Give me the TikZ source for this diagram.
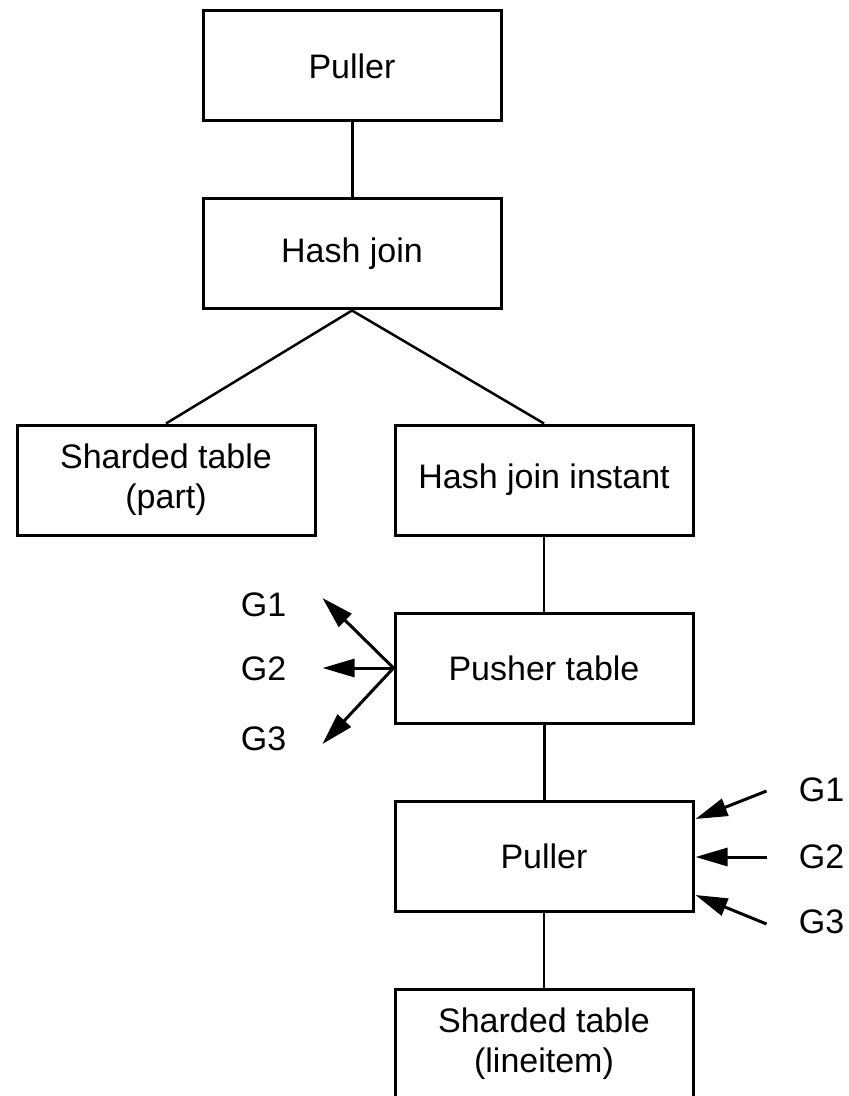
\documentclass[tikz,border=0pt]{standalone}
\usepackage{fontspec}
\setmainfont{Liberation Sans}
\usetikzlibrary{positioning,arrows.meta,calc}

\begin{document}
\begin{tikzpicture}[x=0.5pt, y=-0.5pt,
    box/.style={draw, line width=1.5pt, minimum width=149pt, minimum height=55pt,
                align=center, inner sep=0pt, font=\fontsize{17}{20}\selectfont},
    link/.style={line width=1.5pt},
    fork/.style={line width=1.25pt},
    slim/.style={line width=1pt},
    gflow/.style={-{Triangle[length=16pt, width=9pt]}, line width=1.5pt},
    glabel/.style={inner sep=0pt, font=\fontsize{17}{20}\selectfont},
  ]
    \useasboundingbox (0,0) rectangle (848,1096);
    \node[box] (top) at (352,66) {Puller};
    \node[box, below=37.5pt of top] (hj) {Hash join};
    \node[box, below=56.5pt of hj, xshift=-93pt] (part) {Sharded table\\(part)};
    \node[box, below=56.5pt of hj, xshift=96pt] (inst) {Hash join instant};
    \node[box, below=37.5pt of inst] (push) {Pusher table};
    \node[box, below=37.5pt of push] (pull) {Puller};
    \node[box, below=37.5pt of pull] (line) {Sharded table\\(lineitem)};
    \draw[link] (top) -- (hj);
    \draw[fork] (hj.south) -- (part.north);
    \draw[fork] (hj.south) -- (inst.north);
    \draw[slim] (inst) -- (push);
    \draw[link] (push) -- (pull);
    \draw[slim] (pull) -- (line);
    % groups leaving the pusher
    \coordinate (pushG1) at ($(push.west)+(-71,-70)$);
    \coordinate (pushG2) at ($(push.west)+(-71,0)$);
    \coordinate (pushG3) at ($(push.west)+(-71,76)$);
    \node[glabel] (pushL1) at ($(push.west)+(-130,-63)$) {G1};
    \node[glabel] (pushL2) at ($(push.west)+(-130,1)$) {G2};
    \node[glabel] (pushL3) at ($(push.west)+(-130,71)$) {G3};
    \draw[gflow] (push.west) -- (pushG1);
    \draw[gflow] (push.west) -- (pushG2);
    \draw[gflow] (push.west) -- (pushG3);
    % groups entering the puller
    \coordinate (pullG1) at ($(pull.east)+(72,-65)$);
    \coordinate (pullG2) at ($(pull.east)+(72,1)$);
    \coordinate (pullG3) at ($(pull.east)+(72,68)$);
    \node[glabel] (pullL1) at ($(pull.east)+(127,-66)$) {G1};
    \node[glabel] (pullL2) at ($(pull.east)+(127,1)$) {G2};
    \node[glabel] (pullL3) at ($(pull.east)+(127,66)$) {G3};
    \draw[gflow] (pullG1) -- ($(pull.east)+(1,-37)$);
    \draw[gflow] (pullG2) -- ($(pull.east)+(1,1)$);
    \draw[gflow] (pullG3) -- ($(pull.east)+(1,39)$);
  \end{tikzpicture}
\end{document}
